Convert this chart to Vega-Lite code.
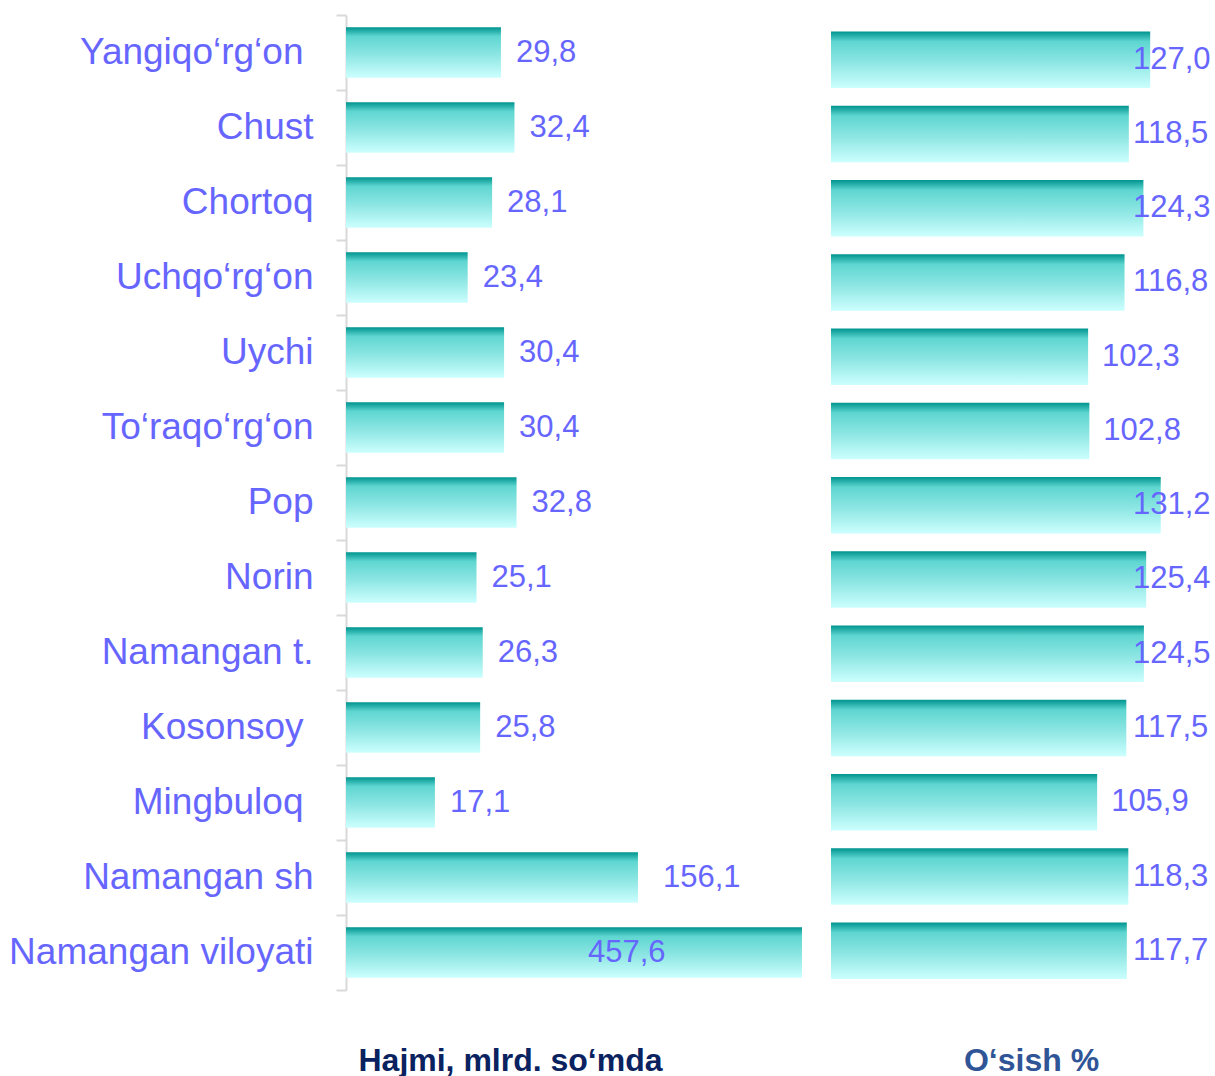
{
  "$schema": "https://vega.github.io/schema/vega-lite/v6.json",
  "padding": {"left": 8, "top": -4, "right": 4, "bottom": 0},
  "background": "white",
  "config": {
    "locale": {"number": {"decimal": ",", "thousands": " ", "grouping": [3], "currency": ["", ""]}},
    "view": {"stroke": null},
    "font": "Liberation Sans"
  },
  "data": {
    "values": [
      {"district": "Yangiqo‘rg‘on", "volume": 29.8, "growth": 127.0},
      {"district": "Chust", "volume": 32.4, "growth": 118.5},
      {"district": "Chortoq", "volume": 28.1, "growth": 124.3},
      {"district": "Uchqo‘rg‘on", "volume": 23.4, "growth": 116.8},
      {"district": "Uychi", "volume": 30.4, "growth": 102.3},
      {"district": "To‘raqo‘rg‘on", "volume": 30.4, "growth": 102.8},
      {"district": "Pop", "volume": 32.8, "growth": 131.2},
      {"district": "Norin", "volume": 25.1, "growth": 125.4},
      {"district": "Namangan t.", "volume": 26.3, "growth": 124.5},
      {"district": "Kosonsoy", "volume": 25.8, "growth": 117.5},
      {"district": "Mingbuloq", "volume": 17.1, "growth": 105.9},
      {"district": "Namangan sh", "volume": 156.1, "growth": 118.3},
      {"district": "Namangan viloyati", "volume": 457.6, "growth": 117.7}
    ]
  },
  "spacing": 15,
  "hconcat": [
    {
      "width": 470,
      "height": 975,
      "encoding": {
        "y": {
          "field": "district", "type": "nominal", "sort": null,
          "scale": {"paddingInner": 0, "paddingOuter": 0},
          "axis": {
            "title": null, "labelFontSize": 37, "labelColor": "#6666FF",
            "labelPadding": {"condition": {"test": "datum.value === 'Yangiqo‘rg‘on' || datum.value === 'Kosonsoy' || datum.value === 'Mingbuloq'", "value": 33}, "value": 23},
            "labelFont": "Liberation Sans", "labelLimit": 0,
            "tickSize": 10, "tickColor": "#D9D9D9", "tickWidth": 2, "tickBand": "extent",
            "domainColor": "#D9D9D9", "domainWidth": 2
          }
        }
      },
      "layer": [
        {
          "mark": {
            "type": "bar",
            "height": {"band": 0.673},
            "color": {
              "gradient": "linear", "x1": 0, "y1": 0, "x2": 0, "y2": 1,
              "stops": [
                {"offset": 0, "color": "#00948F"},
                {"offset": 0.18, "color": "#5FD6D1"},
                {"offset": 0.55, "color": "#8DE6E3"},
                {"offset": 1, "color": "#CCFFFE"}
              ]
            }
          },
          "encoding": {
            "x": {
              "field": "volume", "type": "quantitative",
              "scale": {"domain": [0, 35, 160, 460], "range": [0, 182, 295.5, 457.3], "nice": false},
              "axis": {
                "title": "Hajmi, mlrd. so‘mda", "labels": false, "ticks": false, "domain": false, "grid": false,
                "titleX": 164, "titleY": 80, "titleBaseline": "alphabetic", "titleAlign": "center",
                "titleFontSize": 32, "titleFontWeight": "bold", "titleColor": "#0A2360", "titleFont": "Liberation Sans"
              }
            }
          }
        },
        {
          "transform": [{"filter": "datum.volume < 100"}],
          "mark": {"type": "text", "align": "left", "baseline": "middle", "dx": 15, "fontSize": 31, "color": "#6666FF"},
          "encoding": {
            "x": {"field": "volume", "type": "quantitative"},
            "text": {"field": "volume", "type": "quantitative", "format": ".1f"}
          }
        },
        {
          "transform": [{"filter": "datum.volume >= 100 && datum.volume < 400"}],
          "mark": {"type": "text", "align": "left", "baseline": "middle", "dx": 25, "fontSize": 31, "color": "#6666FF"},
          "encoding": {
            "x": {"field": "volume", "type": "quantitative"},
            "text": {"field": "volume", "type": "quantitative", "format": ".1f"}
          }
        },
        {
          "transform": [{"filter": "datum.volume >= 400"}],
          "mark": {"type": "text", "align": "left", "baseline": "middle", "dx": -214, "fontSize": 31, "color": "#6666FF"},
          "encoding": {
            "x": {"field": "volume", "type": "quantitative"},
            "text": {"field": "volume", "type": "quantitative", "format": ".1f"}
          }
        }
      ]
    },
    {
      "width": 377,
      "height": 975,
      "encoding": {
        "y": {
          "field": "district", "type": "nominal", "sort": null,
          "scale": {"paddingInner": 0.239, "paddingOuter": 0.185, "align": 0.6},
          "axis": null
        }
      },
      "layer": [
        {
          "mark": {
            "type": "bar",
            "color": {
              "gradient": "linear", "x1": 0, "y1": 0, "x2": 0, "y2": 1,
              "stops": [
                {"offset": 0, "color": "#00948F"},
                {"offset": 0.18, "color": "#5FD6D1"},
                {"offset": 0.55, "color": "#8DE6E3"},
                {"offset": 1, "color": "#CCFFFE"}
              ]
            }
          },
          "encoding": {
            "x": {
              "field": "growth", "type": "quantitative",
              "scale": {"domain": [0, 150], "nice": false},
              "axis": {
                "title": "O‘sish %", "labels": false, "ticks": false, "domain": false, "grid": false,
                "titleX": 200, "titleY": 80, "titleBaseline": "alphabetic", "titleAlign": "center",
                "titleFontSize": 32, "titleFontWeight": "bold", "titleColor": "#2F5597", "titleFont": "Liberation Sans"
              }
            }
          }
        },
        {
          "mark": {"type": "text", "align": "left", "baseline": "middle", "dx": 14, "fontSize": 31, "color": "#6666FF"},
          "encoding": {
            "x": {
              "field": "growth", "type": "quantitative",
              "scale": {"domain": [0, 114.6], "range": [0, 288], "clamp": true, "nice": false, "zero": false},
              "axis": null
            },
            "text": {"field": "growth", "type": "quantitative", "format": ".1f"}
          }
        }
      ],
      "resolve": {"scale": {"x": "independent"}}
    }
  ]
}
